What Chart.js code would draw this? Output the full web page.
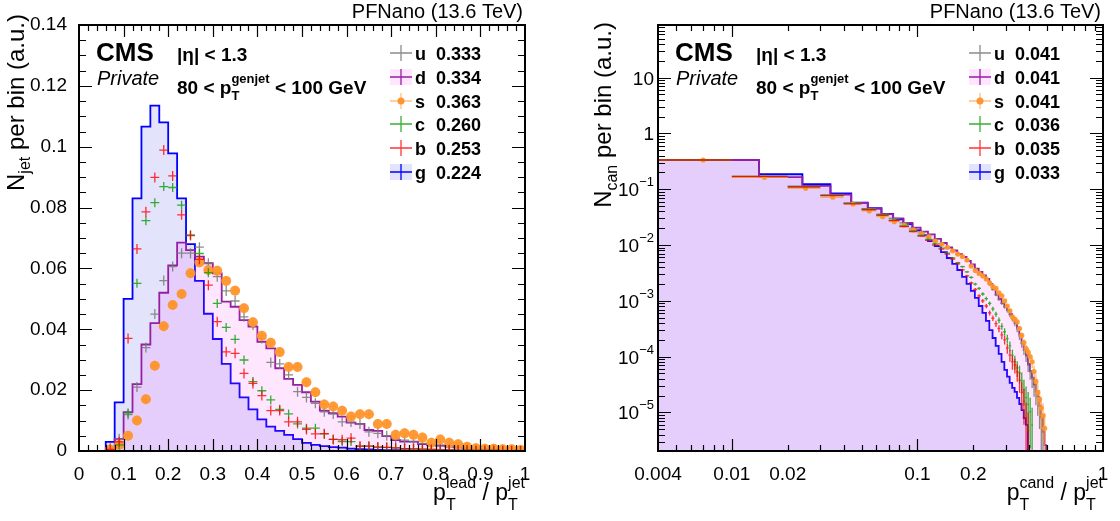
<!DOCTYPE html>
<html><head><meta charset="utf-8">
<script src="https://cdn.jsdelivr.net/npm/chart.js@4.4.1/dist/chart.umd.min.js"></script>
<style>
html,body{margin:0;padding:0;background:#fff;overflow:hidden}
#wrap{position:relative;width:1120px;height:521px;background:#fff}
#wrap canvas{position:absolute;top:0}
</style></head><body><div id="wrap">
<canvas id="lead" width="560" height="521" style="left:0;width:560px;height:521px"></canvas>
<canvas id="cand" width="560" height="521" style="left:560px;width:560px;height:521px"></canvas>
</div>
<script>
const FONT = "'Liberation Sans', Arial, Helvetica, sans-serif";

// ---------- shared labels ----------
const flavours = ['u', 'd', 's', 'c', 'b', 'g'];
const leadMeans = ['0.333', '0.334', '0.363', '0.260', '0.253', '0.224'];
const candMeans = ['0.041', '0.041', '0.041', '0.036', '0.035', '0.033'];
const energyLabel = 'PFNano (13.6 TeV)';
const cmsLabel = 'CMS';
const privateLabel = 'Private';
const etaLabel = '|\u03b7| < 1.3';

// ---------- left panel: leading-candidate pT fraction ----------
const leadBinWidth = 0.02;
const leadXTicks = [0, 0.1, 0.2, 0.3, 0.4, 0.5, 0.6, 0.7, 0.8, 0.9, 1];
const leadXTickLabels = ['0', '0.1', '0.2', '0.3', '0.4', '0.5', '0.6', '0.7', '0.8', '0.9', '1'];
const leadYTicks = [0, 0.02, 0.04, 0.06, 0.08, 0.1, 0.12, 0.14];
const leadYTickLabels = ['0', '0.02', '0.04', '0.06', '0.08', '0.1', '0.12', '0.14'];

const lead_g = [0,0,0,0.003,0.016,0.050,0.083,0.1066,0.1135,0.108,
  0.0978,0.083,0.068,0.0559,0.0451,0.0368,0.0286,0.0222,0.0176,0.0137,
  0.0104,0.008,0.0066,0.0053,0.0039,0.0027,0.002,0.0016,0.0013,0.0011,
  0.0008,0.0006,0.0005,0.0004,0.0003,0.00025,0.0002,0.00015,0.0001,0.0001,
  0.00008,0.00006,0.00005,0.00004,0.00003,0.00003,0.00002,0.00002,0.00001,0.00001];
const lead_d = [0,0,0,0.001,0.004,0.0128,0.022,0.035,0.042,0.052,
  0.061,0.0685,0.066,0.0639,0.0617,0.0584,0.0491,0.0474,0.043,0.0409,
  0.0359,0.0337,0.0272,0.0237,0.0217,0.0193,0.0162,0.0133,0.0124,0.0113,
  0.0093,0.0089,0.0069,0.0066,0.0049,0.0036,0.0031,0.0031,0.0023,0.002,
  0.0018,0.0015,0.0012,0.001,0.0008,0.0006,0.0005,0.0004,0.0003,0.0002];
const lead_u = [0,0,0,0.001,0.004,0.012,0.021,0.034,0.045,0.056,
  0.0606,0.065,0.065,0.067,0.0617,0.0573,0.0526,0.0493,0.0441,0.0414,
  0.037,0.0291,0.0286,0.025,0.0195,0.0176,0.0157,0.0129,0.0122,0.0096,
  0.0095,0.0089,0.0063,0.0058,0.005,0.0042,0.0036,0.003,0.0025,0.002,
  0.0017,0.0014,0.0011,0.0009,0.0007,0.0006,0.0005,0.0004,0.0003,0.0002];
const lead_s = [0,0,0,0.0005,0.002,0.005,0.010,0.017,0.028,0.041,
  0.048,0.0516,0.0584,0.062,0.0595,0.0592,0.0559,0.0527,0.0469,0.0423,
  0.0379,0.0356,0.0325,0.0276,0.0276,0.0226,0.0193,0.0153,0.0146,0.0132,
  0.0113,0.0121,0.0121,0.0089,0.0089,0.0053,0.0058,0.0053,0.0044,0.0027,
  0.0038,0.0027,0.0022,0.0014,0.0009,0.0007,0.0007,0.0006,0.0006,0.0003];
const lead_c = [0,0,0,0,0.002,0.0125,0.0551,0.0757,0.0816,0.0869,
  0.0866,0.0808,0.071,0.0649,0.0586,0.0485,0.0406,0.0367,0.0299,0.0228,
  0.0198,0.0168,0.0137,0.0122,0.0089,0.0075,0.0075,0.0056,0.0038,0.0031,
  0.0031,0.0016,0.0016,0.0013,0.0012,0.001,0.0008,0.0007,0.0006,0.0005,
  0.0004,0.0004,0.0003,0.0003,0.0002,0.0002,0.0002,0.0001,0.0001,0.0001];
const lead_b = [0,0,0,0.0005,0.003,0.037,0.0664,0.0786,0.0899,0.0989,
  0.0904,0.0776,0.0708,0.063,0.0545,0.0425,0.0326,0.0321,0.0255,0.0222,
  0.0182,0.0133,0.0133,0.0096,0.0096,0.0071,0.0056,0.0057,0.0038,0.0037,
  0.0042,0.0016,0.0016,0.0013,0.0012,0.001,0.0008,0.0007,0.0006,0.0005,
  0.0004,0.0004,0.0003,0.0003,0.0002,0.0002,0.0002,0.0001,0.0001,0.0001];

// ---------- right panel: candidate pT fraction ----------
const candBinWidth = 0.01;
const candHistStart = 0.004;
const candXMin = 0.004, candXMax = 1;
const candYMin = 2.04e-6, candYMax = 88;
const candXTicks = [0.004, 0.01, 0.02, 0.1, 0.2, 1];
const candXTickLabels = ['0.004', '0.01', '0.02', '0.1', '0.2', '1'];
const candYTicks = [1e-5, 1e-4, 1e-3, 1e-2, 1e-1, 1, 10];
const candYTickLabels = [['10','\u22125'],['10','\u22124'],['10','\u22123'],['10','\u22122'],['10','\u22121'],['1',''],['10','']];

const cand_g = [0.335,0.186,0.124,0.0848,0.0575,0.0457,0.0361,0.029,0.0239,0.0185,
  0.0150,0.0118,0.00963,0.0075,0.00587,0.00459,0.00358,0.00269,0.00201,0.00151,
  0.00113,0.00081,0.00061,0.00044,0.0003,0.000216,0.000156,0.000112,8.1e-5,5.8e-5,
  4.4e-5,3.4e-5,2.76e-5,2.34e-5,1.82e-5,1.42e-5,1.1e-5,7.9e-6,6e-6];
const cand_d = [0.335,0.165,0.115,0.080,0.057,0.045,0.036,0.030,0.025,0.0205,
  0.0175,0.0155,0.0129,0.0109,0.00906,0.008,0.0069,0.00612,0.00519,0.00449,
  0.0038,0.0033,0.00285,0.00247,0.002,0.00163,0.0013,0.00108,0.00091,0.00079,
  0.00069,0.00058,0.00049,0.0004,0.00033,0.000245,0.000176,0.000132,0.000107,7.4e-5,
  5.5e-5,4.2e-5,3.2e-5,2.4e-5,1.9e-5,1.3e-5,8.3e-6,4.5e-6,2.6e-6];
const cand_u = [0.335,0.165,0.114,0.079,0.057,0.045,0.036,0.030,0.025,0.0195,
  0.0172,0.0152,0.0127,0.0107,0.0089,0.0078,0.0068,0.006,0.0051,0.0044,
  0.0037,0.0032,0.0028,0.0024,0.00195,0.0016,0.00128,0.00106,0.0009,0.00078,
  0.00067,0.00056,0.00047,0.00039,0.00031,0.00023,0.00017,0.00013,0.0001,7e-5,
  5.3e-5,4e-5,3e-5,2.3e-5,1.7e-5,1.2e-5,7.5e-6,4.5e-6];
const cand_s = [0.335,0.164,0.104,0.072,0.0546,0.0409,0.0323,0.0263,0.0229,0.0187,
  0.016,0.014,0.0118,0.0103,0.0091,0.0079,0.0069,0.00625,0.0054,0.0042,
  0.0035,0.0031,0.0028,0.00247,0.0021,0.0018,0.00167,0.00139,0.00123,0.001,
  0.00081,0.00066,0.00052,0.00047,0.00042,0.00032,0.00024,0.000178,0.000139,0.000121,
  0.0001,8.1e-5,5.4e-5,3.6e-5,2.3e-5,1.7e-5,1.2e-5,8.7e-6,5.2e-6];
const cand_c = [0.335,0.170,0.112,0.078,0.056,0.044,0.035,0.028,0.022,0.0179,
  0.0149,0.0126,0.0105,0.0088,0.0072,0.0059,0.00484,0.0041,0.0033,0.00263,
  0.002,0.00167,0.00133,0.0011,0.0009,0.00072,0.00058,0.00045,0.00035,0.00028,
  0.00021,0.000156,0.000107,8.1e-5,6.3e-5,5.1e-5,3.7e-5,2.6e-5,1.85e-5,1.4e-5,
  1.03e-5,6e-6];
const cand_b = [0.335,0.170,0.110,0.077,0.055,0.043,0.034,0.0275,0.0215,0.0175,
  0.0145,0.0121,0.0100,0.0085,0.0069,0.0056,0.0046,0.0036,0.0028,0.0021,
  0.0016,0.00123,0.001,0.00081,0.00061,0.00049,0.00039,0.00032,0.000245,0.0002,
  0.000143,0.000107,8.1e-5,7.1e-5,5.4e-5,3.8e-5,2.3e-5,1.6e-5,8e-6,4.7e-6];

// ---------- styles ----------
const COL = {
  u: 'rgba(120,120,120,0.85)',
  d: 'rgb(150,30,165)',
  s: 'rgba(255,150,45,0.9)',
  c: 'rgba(20,160,20,0.85)',
  b: 'rgba(255,0,0,0.8)',
  g: 'rgb(0,0,255)'
};
const FILL = { d: 'rgba(250,60,250,0.13)', g: 'rgba(40,40,235,0.13)' };

// ---------- builders ----------
function histPoints(edges, vals, base) {
  let first = vals.findIndex(v => v > 0);
  let last = vals.length - 1;
  while (last > 0 && !(vals[last] > 0)) last--;
  const pts = [{ x: edges[first], y: base }];
  for (let i = first; i <= last; i++) pts.push({ x: edges[i], y: vals[i] > 0 ? vals[i] : base });
  pts.push({ x: edges[last + 1], y: vals[last] });
  pts.push({ x: edges[last + 1], y: base });
  return pts;
}
function leadEdges(n) { const e = []; for (let i = 0; i <= n; i++) e.push(+(i * leadBinWidth).toFixed(4)); return e; }
function candEdges(n) { const e = []; for (let i = 0; i <= n; i++) e.push(+(candHistStart + i * candBinWidth).toFixed(4)); return e; }
function leadMarkers(vals) {
  const p = [];
  vals.forEach((v, i) => { if (v > 0) p.push({ x: (i + 0.5) * leadBinWidth, y: v, xl: i * leadBinWidth, xh: (i + 1) * leadBinWidth }); });
  return p;
}
function candMarkers(vals) {
  const p = [];
  vals.forEach((v, i) => {
    if (v > 0) {
      const lo = Math.max(i * candBinWidth, candXMin), hi = (i + 1) * candBinWidth;
      p.push({ x: (lo + hi) / 2, y: v, xl: lo, xh: hi });
    }
  });
  return p;
}

// ---------- rich text ----------
function fnt(sz, st) { return (st ? st + ' ' : '') + sz + 'px ' + FONT; }
function partsWidth(ctx, parts) {
  let w = 0;
  for (const p of parts) {
    ctx.font = fnt(p.f, p.st);
    if (p.t !== undefined) w += ctx.measureText(p.t).width;
    else w += Math.max(ctx.measureText(p.sub || '').width, ctx.measureText(p.sup || '').width);
  }
  return w;
}
function drawParts(ctx, x, y, parts, align) {
  const w = partsWidth(ctx, parts);
  let cx = align === 'right' ? x - w : (align === 'center' ? x - w / 2 : x);
  ctx.textAlign = 'left'; ctx.textBaseline = 'alphabetic';
  for (const p of parts) {
    ctx.font = fnt(p.f, p.st);
    if (p.t !== undefined) { ctx.fillText(p.t, cx, y); cx += ctx.measureText(p.t).width; }
    else {
      if (p.sub) ctx.fillText(p.sub, cx, y + p.dsub);
      if (p.sup) ctx.fillText(p.sup, cx, y + p.dsup);
      cx += Math.max(ctx.measureText(p.sub || '').width, ctx.measureText(p.sup || '').width);
    }
  }
}
const ptCutParts = [
  { t: '80 < p', f: 19, st: 'bold' },
  { sub: 'T', sup: 'genjet', f: 13, st: 'bold', dsub: 6, dsup: -11 },
  { t: ' < 100 GeV', f: 19, st: 'bold' }
];
function xTitleParts(num) {
  return [
    { t: 'p', f: 23 }, { sub: 'T', sup: num, f: 16, dsub: 10, dsup: -12 },
    { t: ' / p', f: 23 }, { sub: 'T', sup: 'jet', f: 16, dsub: 10, dsup: -12 }
  ];
}
function yTitleParts(sub) {
  return [{ t: 'N', f: 24 }, { sub: sub, f: 16, dsub: 6 }, { t: ' per bin (a.u.)', f: 24 }];
}

// ---------- plugins ----------
const errBars = {
  id: 'errBars',
  afterDatasetDraw(chart, args) {
    const ds = chart.data.datasets[args.index];
    if (!ds.eb) return;
    const { ctx, chartArea: a } = chart;
    const xs = chart.scales.x, ys = chart.scales.y;
    ctx.save();
    ctx.beginPath(); ctx.rect(a.left, a.top, a.right - a.left, a.bottom - a.top); ctx.clip();
    ctx.strokeStyle = ds.eb.color; ctx.lineWidth = ds.eb.lw;
    for (const p of ds.data) {
      const px = xs.getPixelForValue(p.x), py = ys.getPixelForValue(p.y);
      const x1 = xs.getPixelForValue(p.xl), x2 = xs.getPixelForValue(p.xh);
      let y1, y2;
      if (ds.eb.rel) {
        const r = ds.eb.rel / Math.sqrt(p.y);
        y1 = ys.getPixelForValue(p.y * (1 + r));
        y2 = r >= 1 ? a.bottom + 5 : ys.getPixelForValue(p.y * (1 - r));
      } else { y1 = py - ds.eb.half; y2 = py + ds.eb.half; }
      ctx.beginPath();
      ctx.moveTo(x1, py); ctx.lineTo(x2, py);
      ctx.moveTo(px, y1); ctx.lineTo(px, y2);
      ctx.stroke();
      if (ds.eb.dot) {
        ctx.fillStyle = ds.eb.dotColor;
        ctx.beginPath(); ctx.arc(px, py, ds.eb.dot, 0, Math.PI * 2); ctx.fill();
      }
    }
    ctx.restore();
  }
};

const rootAxes = {
  id: 'rootAxes',
  afterDatasetsDraw(chart, args, o) {
    const { ctx, chartArea: a } = chart;
    const xs = chart.scales.x, ys = chart.scales.y;
    ctx.save();
    ctx.strokeStyle = '#000'; ctx.lineWidth = 1.2;
    ctx.beginPath();
    const xt = (vals, len) => { for (const v of vals) { const px = Math.round(xs.getPixelForValue(v)) + 0.5; if (px < a.left + 1 || px > a.right - 1) continue; ctx.moveTo(px, a.bottom); ctx.lineTo(px, a.bottom - len); ctx.moveTo(px, a.top); ctx.lineTo(px, a.top + len); } };
    const yt = (vals, len) => { for (const v of vals) { const py = Math.round(ys.getPixelForValue(v)) + 0.5; if (py < a.top + 1 || py > a.bottom - 1) continue; ctx.moveTo(a.left, py); ctx.lineTo(a.left + len, py); ctx.moveTo(a.right, py); ctx.lineTo(a.right - len, py); } };
    xt(o.xMaj, 12); xt(o.xMin, 6); yt(o.yMaj, 13); yt(o.yMin, 7);
    ctx.stroke();
    ctx.lineWidth = 2;
    ctx.strokeRect(a.left, a.top, a.right - a.left, a.bottom - a.top);
    if (o.yLabels) {
      ctx.fillStyle = '#000'; ctx.textBaseline = 'alphabetic'; ctx.textAlign = 'left';
      o.yLabels.forEach((lab, i) => {
        const py = ys.getPixelForValue(o.yMaj[i]);
        const right = a.left - 4;
        ctx.font = fnt(13);
        const ew = lab[1] ? ctx.measureText(lab[1]).width : 0;
        if (lab[1]) ctx.fillText(lab[1], right - ew, py - 3);
        ctx.font = fnt(19);
        const bw = ctx.measureText(lab[0]).width;
        ctx.fillText(lab[0], right - ew - bw, py + 7);
      });
    }
    ctx.restore();
  }
};

function legendMarker(ctx, f, cx, cy) {
  ctx.save();
  if (f === 'd' || f === 'g') { ctx.fillStyle = FILL[f]; ctx.fillRect(cx - 11, cy - 8, 22, 16); }
  ctx.strokeStyle = f === 's' ? 'rgba(255,150,45,0.6)' : COL[f];
  ctx.lineWidth = 1.3;
  ctx.beginPath(); ctx.moveTo(cx - 11, cy); ctx.lineTo(cx + 11, cy); ctx.moveTo(cx, cy - 8); ctx.lineTo(cx, cy + 8); ctx.stroke();
  if (f === 's') { ctx.fillStyle = 'rgba(255,145,40,0.95)'; ctx.beginPath(); ctx.arc(cx, cy, 3.5, 0, Math.PI * 2); ctx.fill(); }
  ctx.restore();
}

const annot = {
  id: 'annot',
  afterDraw(chart, args, o) {
    const { ctx, chartArea: a } = chart;
    const L = a.left, R = a.right;
    ctx.save();
    ctx.fillStyle = '#000'; ctx.textBaseline = 'alphabetic';
    ctx.font = fnt(20); ctx.textAlign = 'right';
    ctx.fillText(energyLabel, R - 2, 18);
    ctx.textAlign = 'left';
    ctx.font = fnt(26, 'bold'); ctx.fillText(cmsLabel, L + 17, 61);
    ctx.font = fnt(20, 'italic'); ctx.fillText(privateLabel, L + 18, 85);
    ctx.font = fnt(19, 'bold'); ctx.fillText(etaLabel, L + 98, 61);
    drawParts(ctx, L + 98, 94, ptCutParts, 'left');
    // legend
    const rows = [53, 77, 101, 124, 148, 172];
    flavours.forEach((f, i) => {
      legendMarker(ctx, f, L + 322, rows[i]);
      ctx.fillStyle = '#000'; ctx.textAlign = 'left';
      ctx.font = fnt(18, 'bold');
      ctx.fillText(f, L + 336, rows[i] + 7);
      ctx.fillText(o.means[i], L + 357, rows[i] + 7);
    });
    // axis titles
    drawParts(ctx, R, 500, o.xTitle, 'right');
    ctx.save();
    ctx.translate(o.yTitleX, o.yTitleTop);
    ctx.rotate(-Math.PI / 2);
    drawParts(ctx, 0, 0, o.yTitle, 'right');
    ctx.restore();
    ctx.restore();
  }
};

function minorList(lo, hi, step, majors) {
  const out = [];
  for (let v = lo; v <= hi + 1e-9; v += step) {
    const r = +v.toFixed(6);
    if (!majors.some(m => Math.abs(m - r) < 1e-9)) out.push(r);
  }
  return out;
}
function logMinors(lo, hi) {
  const out = [];
  for (let e = -7; e <= 2; e++) for (let k = 2; k <= 9; k++) { const v = k * Math.pow(10, e); if (v >= lo && v <= hi) out.push(v); }
  return out;
}

const commonTick = { color: '#000', font: { family: FONT, size: 19 }, autoSkip: false, maxRotation: 0, minRotation: 0 };

// ---------- left chart ----------
const lE = leadEdges(50);
new Chart(document.getElementById('lead'), {
  type: 'line',
  data: {
    datasets: [
      { data: leadMarkers(lead_b), showLine: false, pointRadius: 0, order: 1, eb: { color: COL.b, lw: 1.3, half: 5 } },
      { data: leadMarkers(lead_c), showLine: false, pointRadius: 0, order: 2, eb: { color: COL.c, lw: 1.3, half: 4.5 } },
      { data: leadMarkers(lead_s), showLine: false, pointRadius: 0, order: 3, eb: { color: 'rgba(255,150,45,0.7)', lw: 1.3, half: 5, dot: 5, dotColor: 'rgba(255,148,40,0.92)' } },
      { data: leadMarkers(lead_u), showLine: false, pointRadius: 0, order: 4, eb: { color: COL.u, lw: 1.3, half: 5 } },
      { data: histPoints(lE, lead_d, 0), stepped: 'before', borderColor: COL.d, borderWidth: 1.8, backgroundColor: FILL.d, fill: 'origin', pointRadius: 0, order: 5 },
      { data: histPoints(lE, lead_g, 0), stepped: 'before', borderColor: COL.g, borderWidth: 1.8, backgroundColor: FILL.g, fill: 'origin', pointRadius: 0, order: 6 }
    ]
  },
  options: {
    responsive: false, animation: false, events: [],
    layout: { padding: { left: 0, right: 35, top: 25, bottom: 0 } },
    scales: {
      x: {
        type: 'linear', min: 0, max: 1,
        afterBuildTicks: s => { s.ticks = leadXTicks.map(v => ({ value: v })); },
        afterFit: s => { s.height = 70; },
        ticks: Object.assign({}, commonTick, { padding: 4, callback: (v, i) => leadXTickLabels[i] }),
        grid: { display: false }, border: { display: false }
      },
      y: {
        type: 'linear', min: 0, max: 0.14,
        afterBuildTicks: s => { s.ticks = leadYTicks.map(v => ({ value: v })); },
        afterFit: s => { s.width = 79; },
        ticks: Object.assign({}, commonTick, { padding: 4, callback: (v, i) => leadYTickLabels[i] }),
        grid: { display: false }, border: { display: false }
      }
    },
    plugins: {
      legend: { display: false }, tooltip: { enabled: false },
      rootAxes: { xMaj: leadXTicks, xMin: minorList(0, 1, 0.02, leadXTicks), yMaj: leadYTicks, yMin: minorList(0, 0.14, 0.005, leadYTicks) },
      annot: { means: leadMeans, xTitle: xTitleParts('lead'), yTitle: yTitleParts('jet'), yTitleX: 24, yTitleTop: 14 }
    }
  },
  plugins: [errBars, rootAxes, annot]
});

// ---------- right chart ----------
const cE = candEdges(60);
new Chart(document.getElementById('cand'), {
  type: 'line',
  data: {
    datasets: [
      { data: candMarkers(cand_b), showLine: false, pointRadius: 0, order: 1, eb: { color: COL.b, lw: 1.3, rel: 0.0025 } },
      { data: candMarkers(cand_c), showLine: false, pointRadius: 0, order: 2, eb: { color: COL.c, lw: 1.3, rel: 0.0025 } },
      { data: candMarkers(cand_s), showLine: false, pointRadius: 0, order: 3, eb: { color: 'rgba(255,150,45,0.7)', lw: 1.3, rel: 0.002, dot: 2.6, dotColor: 'rgba(255,148,40,0.92)' } },
      { data: candMarkers(cand_u), showLine: false, pointRadius: 0, order: 4, eb: { color: COL.u, lw: 1.3, rel: 0.002 } },
      { data: histPoints(cE, cand_d, 1e-7), stepped: 'before', borderColor: COL.d, borderWidth: 1.8, backgroundColor: FILL.d, fill: 'start', pointRadius: 0, order: 5 },
      { data: histPoints(cE, cand_g, 1e-7), stepped: 'before', borderColor: COL.g, borderWidth: 1.8, backgroundColor: FILL.g, fill: 'start', pointRadius: 0, order: 6 }
    ]
  },
  options: {
    responsive: false, animation: false, events: [],
    layout: { padding: { left: 0, right: 17, top: 25, bottom: 0 } },
    scales: {
      x: {
        type: 'logarithmic', min: candXMin, max: candXMax,
        afterBuildTicks: s => { s.ticks = candXTicks.map(v => ({ value: v })); },
        afterFit: s => { s.height = 70; },
        ticks: Object.assign({}, commonTick, { padding: 4, callback: (v, i) => candXTickLabels[i] }),
        grid: { display: false }, border: { display: false }
      },
      y: {
        type: 'logarithmic', min: candYMin, max: candYMax,
        afterBuildTicks: s => { s.ticks = candYTicks.map(v => ({ value: v })); },
        afterFit: s => { s.width = 98; },
        ticks: { display: false },
        grid: { display: false }, border: { display: false }
      }
    },
    plugins: {
      legend: { display: false }, tooltip: { enabled: false },
      rootAxes: { xMaj: [0.01, 0.1, 1], xMin: logMinors(candXMin, candXMax), yMaj: candYTicks, yMin: logMinors(candYMin, candYMax).concat([1e-6, 1e-7].filter(v => v > candYMin)), yLabels: candYTickLabels },
      annot: { means: candMeans, xTitle: xTitleParts('cand'), yTitle: yTitleParts('can'), yTitleX: 51, yTitleTop: 22 }
    }
  },
  plugins: [errBars, rootAxes, annot]
});
</script>
</body></html>
